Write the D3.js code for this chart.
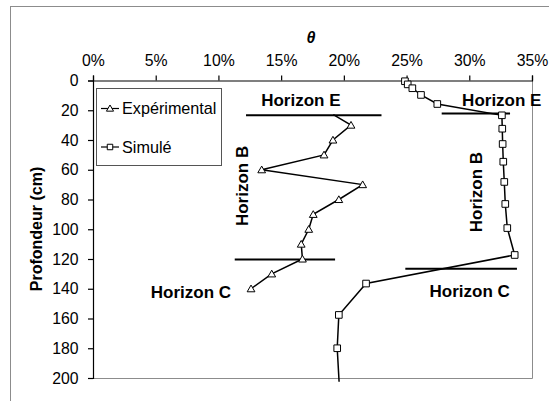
<!DOCTYPE html>
<html><head><meta charset="utf-8">
<script src="https://cdn.jsdelivr.net/npm/d3@7"></script>
<style>body{margin:0;background:#fff}svg{display:block;font-family:"Liberation Sans",Arial,sans-serif}</style>
</head><body><svg id="c" width="549" height="401"></svg>
<script>
// ---- data ----
const xTicks = [0, 0.05, 0.10, 0.15, 0.20, 0.25, 0.30, 0.35];
const yTicks = [0, 20, 40, 60, 80, 100, 120, 140, 160, 180, 200];
// Experimental (theta, depth cm); first point lies on the horizon line without a marker
const expTheta = [0.1916, 0.2057, 0.1913, 0.1842, 0.1345, 0.2150, 0.1960, 0.1756, 0.1720, 0.1660, 0.1670, 0.1425, 0.1260];
const expDepth = [23, 30, 40, 50, 60, 70, 80, 90, 100, 110, 120, 130, 140];
const expMarker = [false, true, true, true, true, true, true, true, true, true, true, true, true];
// Simulated
const simTheta = [0.2487, 0.2509, 0.2546, 0.2615, 0.2745, 0.3260, 0.3263, 0.3266, 0.3271, 0.3279, 0.3287, 0.3303, 0.3362, 0.2177, 0.1960, 0.1947, 0.1962];
const simDepth = [0.5, 2.6, 5.2, 9.7, 15.8, 23.4, 32.4, 42.7, 54.6, 68.2, 83.0, 99.2, 117.3, 136.5, 157.6, 180, 202.5];
// Horizon boundary lines: [theta start, theta end, depth]
const horizonFrom = [0.122, 0.278, 0.113, 0.249];
const horizonTo   = [0.230, 0.3325, 0.193, 0.338];
const horizonDepth = [23.4, 22.2, 120.3, 126.6];
// Horizon labels
const labelText = ["Horizon E", "Horizon E", "Horizon B", "Horizon B", "Horizon C", "Horizon C"];
const labelTheta = [0.1657, 0.3259, 0.1233, 0.3105, 0.0781, 0.3003];
const labelDepth = [17.0, 17.0, 70.9, 75.0, 146.4, 145.7];
const labelRot = [0, 0, -90, -90, 0, 0];
const seriesNames = ["Expérimental", "Simulé"];

// ---- chart ----
const svg = d3.select("#c");
const x = d3.scaleLinear().domain([0, 0.35]).range([93, 532]);
const y = d3.scaleLinear().domain([0, 200]).range([80.5, 378]);

// outer frame
svg.append("rect").attr("x", 10.5).attr("y", 6.5).attr("width", 560).attr("height", 420)
  .attr("fill", "none").attr("stroke", "#8c8c8c").attr("stroke-width", 1);

// plot border (right & bottom gray)
svg.append("path").attr("d", `M${x(0)},${y(200)+0.5}H${x(0.35)+0.5}V${y(0)}`)
  .attr("fill", "none").attr("stroke", "#8c8c8c").attr("stroke-width", 1);

const gx = svg.append("g").attr("transform", `translate(0,${y(0)})`)
  .call(d3.axisTop(x).tickValues(xTicks).tickFormat(d3.format(".0%")).tickSize(5).tickPadding(9.5));
const gy = svg.append("g").attr("transform", `translate(${x(0)},0)`)
  .call(d3.axisLeft(y).tickValues(yTicks).tickSize(5).tickPadding(9.5));
[gx, gy].forEach(g => {
  g.select(".domain").attr("stroke", "#000").attr("stroke-width", 1.2);
  g.selectAll(".tick line").attr("stroke", "#000").attr("stroke-width", 1.2);
  g.selectAll(".tick text").attr("font-size", 15.8).attr("fill", "#000")
    .attr("font-family", '"Liberation Sans",Arial,sans-serif');
});

// axis titles
svg.append("text").attr("x", 311).attr("y", 43).attr("text-anchor", "middle")
  .attr("font-size", 16).attr("font-weight", "bold").attr("font-style", "italic").text("θ");
svg.append("text").attr("transform", "translate(42,229) rotate(-90)").attr("text-anchor", "middle")
  .attr("font-size", 16).attr("font-weight", "bold").text("Profondeur (cm)");

// horizon lines
horizonDepth.forEach((d, i) => {
  svg.append("line").attr("x1", x(horizonFrom[i])).attr("x2", x(horizonTo[i]))
    .attr("y1", y(d)).attr("y2", y(d)).attr("stroke", "#000").attr("stroke-width", 2);
});

// series lines
const line = d3.line().x(d => x(d[0])).y(d => y(d[1]));
const expPts = expTheta.map((t, i) => [t, expDepth[i]]);
const simPts = simTheta.map((t, i) => [t, simDepth[i]]);
svg.append("path").attr("d", line(expPts)).attr("fill", "none").attr("stroke", "#000").attr("stroke-width", 1.5);
svg.append("path").attr("d", line(simPts)).attr("fill", "none").attr("stroke", "#000").attr("stroke-width", 1.5);

// markers (clipped to plot area)
const tri = d3.symbol().type(d3.symbolTriangle).size(26);
const sq = d3.symbol().type(d3.symbolSquare).size(44);
svg.append("defs").append("clipPath").attr("id", "pc").append("rect")
  .attr("x", x(0)).attr("y", y(0) - 6).attr("width", x(0.35) - x(0) + 6).attr("height", y(200) - y(0) + 5);
const mk = svg.append("g").attr("clip-path", "url(#pc)");
mk.selectAll(".s").data(simPts).join("path").attr("d", sq)
  .attr("transform", d => `translate(${x(d[0])},${y(d[1])})`)
  .attr("fill", "#fff").attr("stroke", "#000").attr("stroke-width", 1);
mk.selectAll(".t").data(expPts.filter((d, i) => expMarker[i])).join("path").attr("d", tri)
  .attr("transform", d => `translate(${x(d[0])},${y(d[1]) + 0.8})`)
  .attr("fill", "#fff").attr("stroke", "#000").attr("stroke-width", 1);

// horizon labels
labelText.forEach((t, i) => {
  const px = x(labelTheta[i]), py = y(labelDepth[i]);
  svg.append("text").attr("transform", `translate(${px},${py}) rotate(${labelRot[i]})`)
    .attr("text-anchor", "middle").attr("font-size", 17).attr("font-weight", "bold").text(t);
});

// legend
const lg = svg.append("g");
lg.append("rect").attr("x", 96.5).attr("y", 88.5).attr("width", 125).attr("height", 77)
  .attr("fill", "#fff").attr("stroke", "#555").attr("stroke-width", 1);
const legY = [108.5, 147];
seriesNames.forEach((n, i) => {
  lg.append("line").attr("x1", 101).attr("x2", 119).attr("y1", legY[i]).attr("y2", legY[i])
    .attr("stroke", "#000").attr("stroke-width", 1.2);
  lg.append("path").attr("d", i === 0 ? d3.symbol().type(d3.symbolTriangle).size(22)() : d3.symbol().type(d3.symbolSquare).size(30)())
    .attr("transform", `translate(110,${legY[i] + (i === 0 ? 0.6 : 0)})`)
    .attr("fill", "#fff").attr("stroke", "#000").attr("stroke-width", 1);
  lg.append("text").attr("x", 122).attr("y", legY[i] + 5.6).attr("font-size", 16.2).text(n);
});
</script></body></html>
